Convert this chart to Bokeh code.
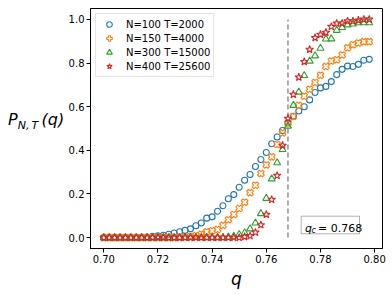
import numpy as np
from bokeh.plotting import figure
from bokeh.models import Label, BoxAnnotation, FixedTicker, Range1d, Div
from bokeh.layouts import row
from bokeh.embed import file_html
from bokeh.resources import INLINE

# ---------------- data ----------------
q = [0.700, 0.702, 0.704, 0.706, 0.708, 0.710, 0.712, 0.714, 0.716, 0.718,
     0.720, 0.722, 0.724, 0.726, 0.728, 0.730, 0.732, 0.734, 0.736, 0.738,
     0.740, 0.742, 0.744, 0.746, 0.748, 0.750, 0.752, 0.754, 0.756, 0.758,
     0.760, 0.762, 0.764, 0.766, 0.768, 0.770, 0.772, 0.774, 0.776, 0.778,
     0.780, 0.782, 0.784, 0.786, 0.788, 0.790, 0.792, 0.794, 0.796, 0.798]

p_n100 = [0.0, 0.0, 0.0, 0.0, 0.0, 0.0, 0.0, 0.001, 0.003, 0.006,
          0.008, 0.011, 0.015, 0.021, 0.027, 0.033, 0.040, 0.054, 0.067, 0.089,
          0.095, 0.121, 0.146, 0.178, 0.197, 0.231, 0.263, 0.289, 0.326, 0.358,
          0.390, 0.430, 0.461, 0.491, 0.525, 0.556, 0.580, 0.600, 0.631, 0.665,
          0.686, 0.693, 0.715, 0.747, 0.771, 0.786, 0.784, 0.794, 0.813, 0.817]

p_n150 = [0.0, 0.0, 0.0, 0.0, 0.0, 0.0, 0.0, 0.0, 0.0, 0.0,
          0.0, 0.0, 0.0, 0.0, 0.001, 0.003, 0.005, 0.009, 0.015, 0.027,
          0.031, 0.037, 0.056, 0.082, 0.106, 0.133, 0.162, 0.206, 0.240, 0.294,
          0.333, 0.370, 0.427, 0.480, 0.525, 0.555, 0.606, 0.648, 0.680, 0.711,
          0.744, 0.784, 0.809, 0.815, 0.837, 0.870, 0.884, 0.892, 0.898, 0.898]

p_n300 = [0.0, 0.0, 0.0, 0.0, 0.0, 0.0, 0.0, 0.0, 0.0, 0.0,
          0.0, 0.0, 0.0, 0.0, 0.0, 0.0, 0.0, 0.0, 0.0, 0.0,
          0.0, 0.0, 0.0, 0.002, 0.006, 0.014, 0.022, 0.040, 0.067, 0.110,
          0.180, 0.269, 0.343, 0.404, 0.511, 0.606, 0.667, 0.743, 0.809, 0.833,
          0.868, 0.910, 0.911, 0.950, 0.963, 0.975, 0.979, 0.985, 0.985, 0.985]

p_n400 = [0.0, 0.0, 0.0, 0.0, 0.0, 0.0, 0.0, 0.0, 0.0, 0.0,
          0.0, 0.0, 0.0, 0.0, 0.0, 0.0, 0.0, 0.0, 0.0, 0.0,
          0.0, 0.0, 0.0, 0.0, 0.0, 0.0, 0.004, 0.008, 0.024, 0.058,
          0.106, 0.174, 0.284, 0.422, 0.546, 0.656, 0.735, 0.806, 0.862, 0.916,
          0.931, 0.940, 0.967, 0.982, 0.982, 0.992, 0.992, 0.996, 1.000, 1.000]

series_labels = ["N=100 T=2000", "N=150 T=4000", "N=300 T=15000", "N=400 T=25600"]

x_ticks = [0.70, 0.72, 0.74, 0.76, 0.78, 0.80]
x_tick_labels = ["0.70", "0.72", "0.74", "0.76", "0.78", "0.80"]
y_ticks = [0.0, 0.2, 0.4, 0.6, 0.8, 1.0]
y_tick_labels = ["0.0", "0.2", "0.4", "0.6", "0.8", "1.0"]

q_c = 0.768
q_c_text = "0.768"

# ---------------- figure ----------------
X0, X1 = 0.6951, 0.8029
Y0, Y1 = -0.05, 1.05
FONT = "DejaVu Sans"
DIV_W = 50

p = figure(width=392 - DIV_W, height=294, output_backend="svg",
           toolbar_location=None,
           x_range=Range1d(X0, X1), y_range=Range1d(Y0, Y1),
           min_border_left=90 - DIV_W, min_border_right=10, min_border_top=8,
           min_border_bottom=46)
p.background_fill_color = "white"
p.border_fill_color = None
p.outline_line_color = "black"
p.outline_line_width = 1
p.outline_line_alpha = 1
p.xgrid.visible = False
p.ygrid.visible = False

# frame geometry in page px, for the box inside the frame
FL, FT, FW, FH = 90, 8, 292, 240
def cx(px):
    return X0 + (px - FL) * (X1 - X0) / FW
def cy(py):
    return Y0 + (FT + FH - py) * (Y1 - Y0) / FH

for ax in (p.xaxis[0], p.yaxis[0]):
    ax.axis_line_color = "black"
    ax.major_tick_line_color = "black"
    ax.major_tick_in = 0
    ax.major_tick_out = 4
    ax.minor_tick_in = 0
    ax.minor_tick_out = 0
    ax.major_label_text_color = "black"
    ax.major_label_text_font = FONT
    ax.major_label_text_font_size = "10px"
    ax.major_label_standoff = 2

p.xaxis.ticker = FixedTicker(ticks=x_ticks)
p.yaxis.ticker = FixedTicker(ticks=y_ticks)
p.xaxis.major_label_overrides = {t: l for t, l in zip(x_ticks, x_tick_labels)}
p.yaxis.major_label_overrides = {t: l for t, l in zip(y_ticks, y_tick_labels)}

p.xaxis.axis_label = "q"
p.xaxis.axis_label_text_font = FONT
p.xaxis.axis_label_text_font_style = "italic"
p.xaxis.axis_label_text_font_size = "17px"
p.xaxis.axis_label_text_color = "black"
p.xaxis.axis_label_standoff = 3

# critical line
p.segment(x0=[q_c], y0=[0.0], x1=[q_c], y1=[1.0], line_color="#7f7f7f",
          line_width=1.3, line_dash="5 3")

colors = ["#1f77b4", "#ff7f0e", "#2ca02c", "#d62728"]
p.scatter(q, p_n100, marker="circle", size=6, fill_color=None,
          line_color=colors[0], line_width=1.1, legend_label=series_labels[0])
p.scatter(q, p_n150, marker="plus", angle=np.pi / 4, size=7, fill_color=None,
          line_color=colors[1], line_width=1.1, legend_label=series_labels[1])
p.scatter(q, p_n300, marker="triangle", size=7, fill_color=None,
          line_color=colors[2], line_width=1.1, legend_label=series_labels[2])
p.scatter(q, p_n400, marker="star", size=8, fill_color=None,
          line_color=colors[3], line_width=1.1, legend_label=series_labels[3])

lg = p.legend[0]
lg.location = "top_left"
lg.margin = 5
lg.padding = 3
lg.spacing = 0
lg.label_height = 14
lg.glyph_height = 14
lg.glyph_width = 20
lg.label_standoff = 7
lg.label_text_font = FONT
lg.label_text_font_size = "10px"
lg.label_text_color = "black"
lg.border_line_color = "#cccccc"
lg.border_line_width = 1
lg.background_fill_alpha = 0.8

# q_c box
p.add_layout(BoxAnnotation(left=cx(300.7), right=cx(359), top=cy(215.7),
                           bottom=cy(233.3), fill_color="white", fill_alpha=1,
                           line_color="black", line_width=1))
p.add_layout(Label(x=cx(304.5), y=cy(227.5), text="q", text_font=FONT,
                   text_font_style="italic", text_font_size="11px",
                   text_baseline="alphabetic", text_color="black"))
p.add_layout(Label(x=cx(311), y=cy(230), text="c", text_font=FONT,
                   text_font_style="italic", text_font_size="8px",
                   text_baseline="alphabetic", text_color="black"))
p.add_layout(Label(x=cx(317.5), y=cy(227.5), text="= " + q_c_text,
                   text_font=FONT, text_font_size="11px",
                   text_baseline="alphabetic", text_color="black"))

# y label  P_{N,T} (q) as real HTML text
ylabel_html = (
    '<div style="margin:111px 0 0 8px; font-family:\'DejaVu Sans\'; '
    'font-style:italic; font-size:16px; line-height:18px; white-space:nowrap; '
    'color:black; overflow:visible;">P<span style="font-size:11px; '
    'position:relative; top:4px;">N,\u2009T</span>\u2009(q)</div>'
)
ylab = Div(text=ylabel_html, width=DIV_W, height=294, margin=0,
           styles={"overflow": "visible", "z-index": "0"})

layout = row(ylab, p, spacing=0)
open("out.html", "w").write(file_html(layout, INLINE))
